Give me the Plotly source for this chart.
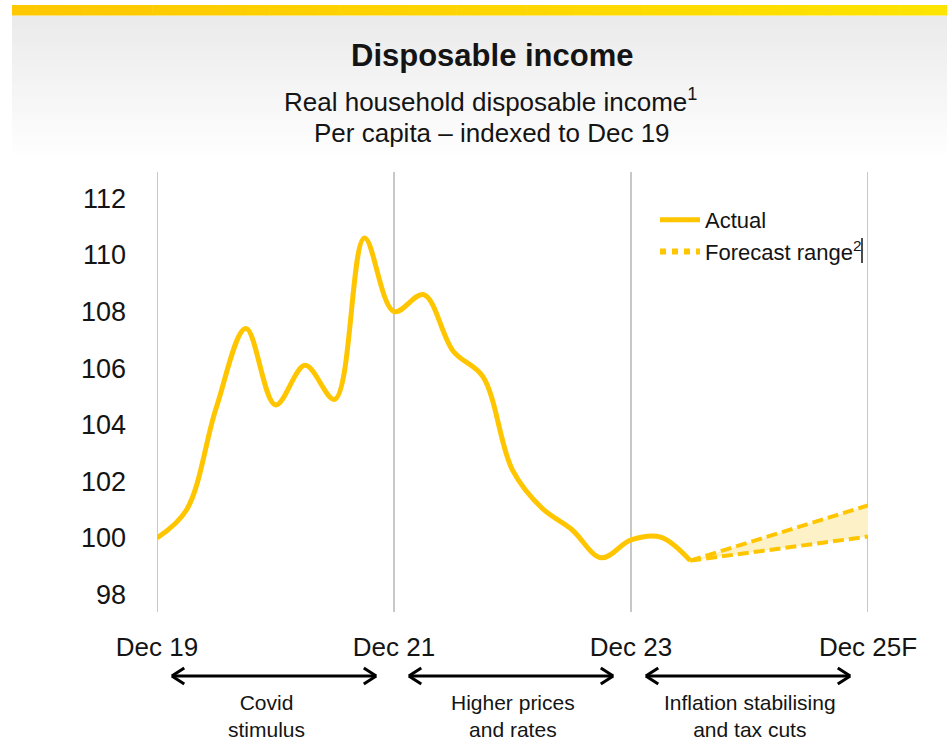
import plotly.graph_objects as go

# ---------------- data ----------------
quarter = list(range(19))  # quarters since Dec 19
actual = [100.0, 101.0, 104.6, 107.4, 104.7, 106.1, 104.9, 110.6, 108.0,
          108.6, 106.6, 105.7, 102.4, 101.05, 100.3, 99.3, 99.93, 100.03, 99.2]
forecast_q = [18, 24]
forecast_low = [99.2, 100.05]
forecast_high = [99.2, 101.15]
tick_q = [0, 8, 16, 24]
tick_labels = ["Dec 19", "Dec 21", "Dec 23", "Dec 25F"]
y_ticks = [98, 100, 102, 104, 106, 108, 110, 112]
period_labels = ["Covid<br>stimulus", "Higher prices<br>and rates",
                 "Inflation stabilising<br>and tax cuts"]
period_start = [0, 8, 16]
period_end = [8, 16, 24]
period_text_x = [3.7, 12.0, 20.0]

# ---------------- style ----------------
GOLD = "#FFC600"
FILL = "#FDF1C8"
TXT = "#141414"
FONT = "Liberation Sans, Arial, sans-serif"
W, H = 947, 741
L, R, T, B = 157, 868, 172, 612


def px(x):
    return (x - L) / (R - L)


def py(y):
    return (B - y) / (B - T)


fig = go.Figure()

fig.add_trace(go.Scatter(x=forecast_q, y=forecast_low, mode="lines",
                         line=dict(color=GOLD, width=4, dash="11px,5px"),
                         showlegend=False, hoverinfo="skip"))
fig.add_trace(go.Scatter(x=forecast_q, y=forecast_high, mode="lines",
                         line=dict(color=GOLD, width=4, dash="11px,5px"),
                         fill="tonexty", fillcolor=FILL,
                         showlegend=False, hoverinfo="skip"))
fig.add_trace(go.Scatter(x=quarter, y=actual, mode="lines", name="Actual",
                         line=dict(color=GOLD, width=5, shape="spline", smoothing=1.0)))
fig.add_trace(go.Scatter(x=[None], y=[None], mode="lines",
                         name="Forecast range<sup>2</sup>",
                         line=dict(color=GOLD, width=6, dash="dot")))

shapes = []
# grey gradient header background
n = 29
for i in range(n):
    y0 = 15.5 + i * 5
    c = int(235 + (255 - 235) * i / (n - 1))
    shapes.append(dict(type="rect", xref="paper", yref="paper",
                       x0=px(12), x1=px(W), y0=py(y0), y1=py(y0 + 5.5),
                       fillcolor=f"rgb({c},{c},{c})", line=dict(width=0), layer="below"))
# yellow top bar gradient
m = 40
for i in range(m):
    xa = 12 + (W - 12) * i / m
    xb = 12 + (W - 12) * (i + 1) / m + 0.5
    g = int(200 + (228 - 200) * i / (m - 1))
    shapes.append(dict(type="rect", xref="paper", yref="paper",
                       x0=px(xa), x1=px(xb), y0=py(15.5), y1=py(5),
                       fillcolor=f"rgb(255,{g},0)", line=dict(width=0), layer="below"))
# vertical grid lines
for q in tick_q:
    shapes.append(dict(type="line", xref="x", yref="paper", x0=q, x1=q, y0=0, y1=1,
                       line=dict(color="#C8C8C8", width=2), layer="below"))
# cursor artifact after legend
shapes.append(dict(type="line", xref="paper", yref="paper", x0=px(862), x1=px(862),
                   y0=py(238), y1=py(263), line=dict(color="#111111", width=1.5)))

# period arrows
ay = py(676)
for s, e in zip(period_start, period_end):
    xa, xb = s + 0.5, e - 0.6
    shapes.append(dict(type="line", xref="x", yref="paper", x0=xa, x1=xb, y0=ay, y1=ay,
                       line=dict(color="black", width=3)))
    for xe, d in ((xa, 1), (xb, -1)):
        shapes.append(dict(type="line", xref="x", yref="paper", x0=xe, x1=xe + d * 0.42,
                           y0=ay, y1=py(668), line=dict(color="black", width=3)))
        shapes.append(dict(type="line", xref="x", yref="paper", x0=xe, x1=xe + d * 0.42,
                           y0=ay, y1=py(684), line=dict(color="black", width=3)))

annotations = [
    dict(text="<b>Disposable income</b>", x=px(492), y=py(55), xref="paper", yref="paper",
         showarrow=False, font=dict(size=31, color=TXT, family=FONT),
         xanchor="center", yanchor="middle"),
    dict(text="Real household disposable income<sup>1</sup>", x=px(490), y=py(100),
         xref="paper", yref="paper", showarrow=False,
         font=dict(size=26, color=TXT, family=FONT), xanchor="center", yanchor="middle"),
    dict(text="Per capita – indexed to Dec 19", x=px(492), y=py(133),
         xref="paper", yref="paper", showarrow=False,
         font=dict(size=26, color=TXT, family=FONT), xanchor="center", yanchor="middle"),
]
for lbl, tx in zip(period_labels, period_text_x):
    annotations.append(dict(text=lbl, x=tx, y=py(716), xref="x", yref="paper",
                            showarrow=False, font=dict(size=21, color=TXT, family=FONT),
                            xanchor="center", yanchor="middle"))

fig.update_layout(
    width=W, height=H, autosize=False,
    margin=dict(l=L, r=W - R, t=T, b=H - B),
    paper_bgcolor="white", plot_bgcolor="white",
    font=dict(family=FONT, color=TXT),
    shapes=shapes, annotations=annotations,
    legend=dict(x=px(655), y=py(199), xanchor="left", yanchor="top",
                traceorder="normal", itemwidth=40,
                bgcolor="rgba(0,0,0,0)", font=dict(size=22, color=TXT, family=FONT),
                tracegroupgap=0),
    xaxis=dict(range=[0, 24], tickvals=tick_q, ticktext=tick_labels, showgrid=False,
               zeroline=False, showline=False, ticks="", ticklabelstandoff=17,
               tickfont=dict(size=26, color=TXT, family=FONT), fixedrange=True),
    yaxis=dict(range=[100 - (B - 538) / 28.3, 100 + (538 - T) / 28.3], tickvals=y_ticks,
               showgrid=False, zeroline=False, showline=False, ticks="",
               ticklabelstandoff=30, tickfont=dict(size=27, color=TXT, family=FONT),
               fixedrange=True),
)

fig.write_html("out.html", config={"displayModeBar": False},
               post_script="document.body.style.margin='0';")
